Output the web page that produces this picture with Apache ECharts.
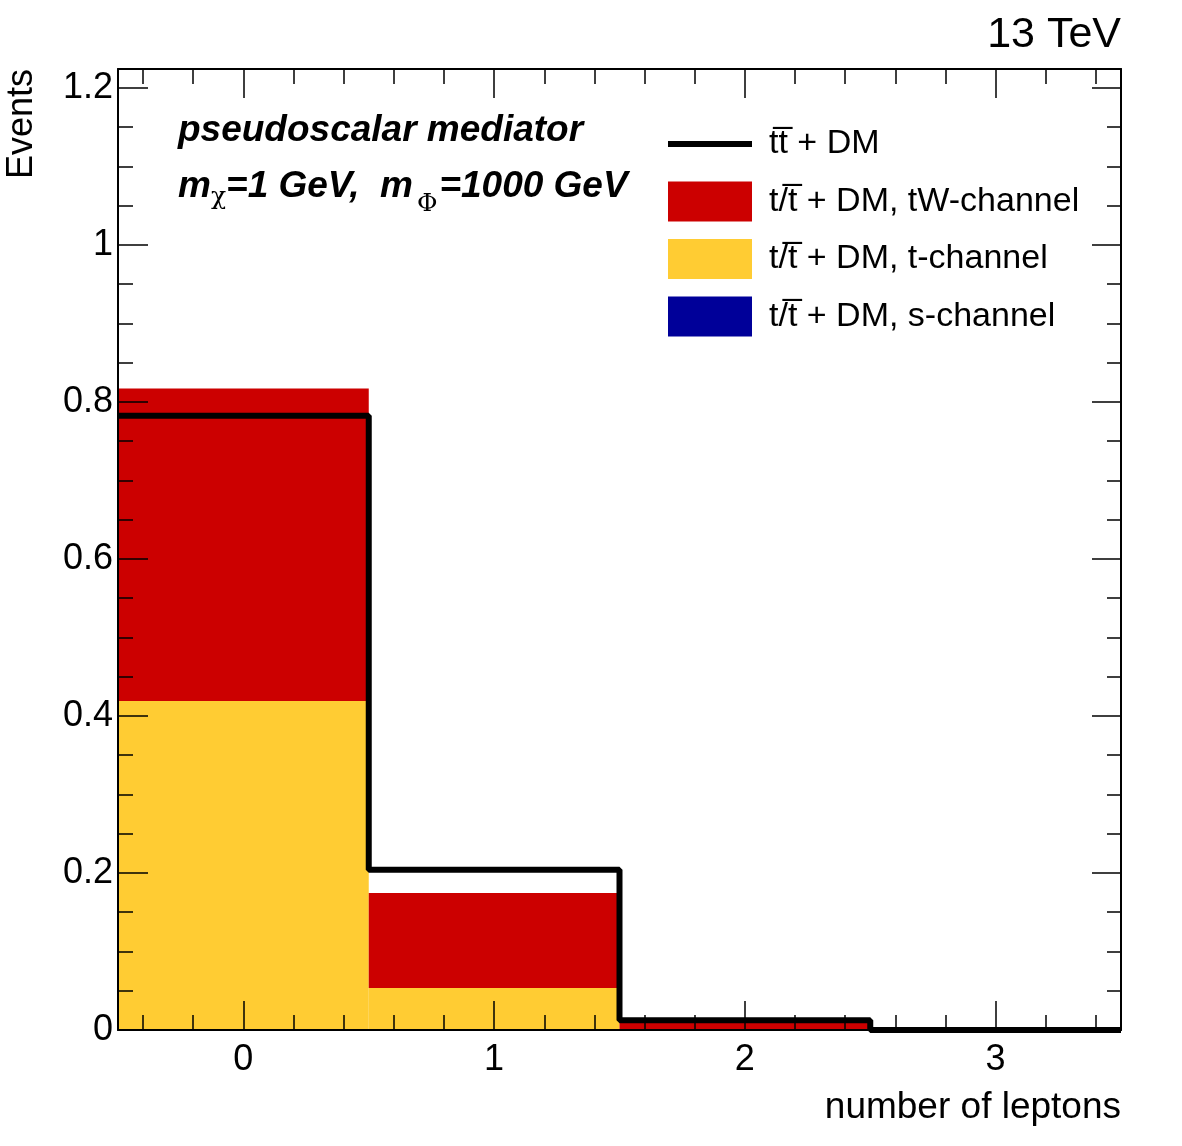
<!DOCTYPE html>
<html>
<head>
<meta charset="utf-8">
<script src="https://cdn.jsdelivr.net/npm/echarts@6/dist/echarts.min.js"></script>
<style>
  html, body { margin: 0; padding: 0; background: #fff; }
  #chart { width: 1182px; height: 1146px; }
</style>
</head>
<body>
<div id="chart"></div>
<script>
// bins: number of leptons 0..3
var binCenters = [0, 1, 2, 3];
var ttDM = [0.7825, 0.204, 0.0125, 0];        // tt + DM (black line)
var tChannel = [0.419, 0.0535, 0, 0];         // t/tbar + DM, t-channel (yellow)
var tWChannel = [0.398, 0.121, 0.009, 0];     // t/tbar + DM, tW-channel (red)
var sChannel = [0, 0, 0, 0];                  // t/tbar + DM, s-channel (blue)
var xMajor = [0, 1, 2, 3];
var yMajor = [0, 0.2, 0.4, 0.6, 0.8, 1, 1.2];

var names = ['tt\u0305 + DM', 't/t\u0305 + DM, tW-channel', 't/t\u0305 + DM, t-channel', 't/t\u0305 + DM, s-channel'];
var colors = { red: '#cc0000', yellow: '#ffcc33', blue: '#000099' };
var font = '"Liberation Sans", Arial, sans-serif';

// minor ticks
var xMinor = [];
for (var i = -2; i <= 17; i++) { if (i % 5 !== 0) xMinor.push(i / 5); }   // -0.4 .. 3.4 step 0.2
var yMinor = [];
for (var j = 1; j <= 24; j++) { if (j % 4 !== 0) yMinor.push(j / 20); }   // step 0.05

// stack bases
var tWBase = tChannel.map(function (v) { return v; });
var sBase = tChannel.map(function (v, k) { return v + tWChannel[k]; });

// step line points from bin edges
var linePts = [];
binCenters.forEach(function (c, k) { linePts.push([c - 0.5, ttDM[k]]); });
linePts.push([binCenters[binCenters.length - 1] + 0.5, ttDM[ttDM.length - 1]]);

function barSeries(name, vals, base, color) {
    return {
        name: name,
        type: 'custom',
        xAxisIndex: 0, yAxisIndex: 0,
        itemStyle: { color: color },
        z: 2,
        data: binCenters.map(function (c, k) { return [c, base[k], base[k] + vals[k]]; }),
        renderItem: function (params, api) {
            var c = api.value(0);
            var p0 = api.coord([c - 0.5, api.value(1)]);
            var p1 = api.coord([c + 0.5, api.value(2)]);
            return {
                type: 'rect',
                shape: { x: p0[0], y: p1[1], width: p1[0] - p0[0], height: p0[1] - p1[1] },
                style: { fill: color }
            };
        }
    };
}

var grid = { left: 118, right: 61, top: 69, bottom: 116 };
var lineStyleAx = { color: '#000', width: 2 };

function xAx(gi, pos, ticks, len, showLine, labels) {
    return {
        gridIndex: gi, type: 'value', position: pos, min: -0.5, max: 3.5, z: 10,
        axisLine: { show: showLine, onZero: false, lineStyle: lineStyleAx },
        axisTick: { show: true, inside: true, length: len, customValues: ticks, lineStyle: { color: '#000', width: 1.5 } },
        axisLabel: labels ? { show: true, customValues: labels, fontSize: 36, color: '#000', fontFamily: font, margin: 12 } : { show: false },
        splitLine: { show: false }
    };
}
function yAx(gi, pos, ticks, len, showLine, labels) {
    return {
        gridIndex: gi, type: 'value', position: pos, min: 0, max: 1.224, z: 10,
        axisLine: { show: showLine, onZero: false, lineStyle: lineStyleAx },
        axisTick: { show: true, inside: true, length: len, customValues: ticks, lineStyle: { color: '#000', width: 1.5 } },
        axisLabel: labels ? { show: true, customValues: labels, fontSize: 36, color: '#000', fontFamily: font, margin: 5 } : { show: false },
        splitLine: { show: false }
    };
}

var option = {
    animation: false,
    backgroundColor: '#fff',
    grid: [grid, grid],
    xAxis: [
        xAx(0, 'bottom', xMajor, 29, true, xMajor),
        xAx(0, 'top', xMajor, 29, true, null),
        xAx(1, 'bottom', xMinor, 15, false, null),
        xAx(1, 'top', xMinor, 15, false, null)
    ],
    yAxis: [
        yAx(0, 'left', yMajor, 30, true, yMajor),
        yAx(0, 'right', yMajor, 29, true, null),
        yAx(1, 'left', yMinor, 15, false, null),
        yAx(1, 'right', yMinor, 14, false, null)
    ],
    legend: {
        orient: 'vertical', left: 665, top: 124, padding: 0,
        itemWidth: 84, itemHeight: 40, itemGap: 17.5,
        textStyle: { fontSize: 34, lineHeight: 40, color: '#000', fontFamily: font, padding: [0, 0, 0, 12] },
        data: [
            { name: names[0], itemStyle: { color: 'rgba(0,0,0,0)', borderWidth: 0 }, lineStyle: { width: 6, color: '#000' } },
            { name: names[1], icon: 'rect' },
            { name: names[2], icon: 'rect' },
            { name: names[3], icon: 'rect' }
        ]
    },
    series: [
        barSeries(names[2], tChannel, binCenters.map(function () { return 0; }), colors.yellow),
        barSeries(names[1], tWChannel, tWBase, colors.red),
        barSeries(names[3], sChannel, sBase, colors.blue),
        {
            name: names[0], type: 'line', step: 'end', xAxisIndex: 0, yAxisIndex: 0,
            data: linePts, symbol: 'none', clip: false, z: 3,
            lineStyle: { color: '#000', width: 6 }, itemStyle: { color: '#000' }
        }
    ],
    graphic: [
        { type: 'text', style: { x: 1121, y: 35, text: '13 TeV', align: 'right', verticalAlign: 'middle', fontSize: 43, fontFamily: font, fill: '#000' } },
        { type: 'text', rotation: Math.PI / 2, x: 22, y: 69, style: { x: 0, y: 0, text: 'Events', align: 'right', verticalAlign: 'middle', fontSize: 36, fontFamily: font, fill: '#000' } },
        { type: 'text', style: { x: 1121, y: 1108, text: 'number of leptons', align: 'right', verticalAlign: 'middle', fontSize: 37, fontFamily: font, fill: '#000' } },
        { type: 'text', style: { x: 178, y: 131, text: 'pseudoscalar mediator', align: 'left', verticalAlign: 'middle', fontSize: 37, fontWeight: 'bold', fontStyle: 'italic', fontFamily: font, fill: '#000' } },
        {
            type: 'text', style: {
                x: 178, y: 187, align: 'left', verticalAlign: 'middle',
                text: '{m|m}{chi|\u03c7}{m|=1 GeV,  m}{phi|\u03a6}{m|=1000 GeV}',
                rich: {
                    m: { fontSize: 37, fontWeight: 'bold', fontStyle: 'italic', fontFamily: font, fill: '#000', lineHeight: 44 },
                    chi: { fontSize: 25, fontFamily: '"DejaVu Serif", serif', fill: '#000', padding: [20, 0, 0, 0], lineHeight: 44 },
                    phi: { fontSize: 25, fontFamily: '"DejaVu Serif", serif', fill: '#000', padding: [34, 2, 0, 4], lineHeight: 44 }
                }
            }
        }
    ]
};

var chart = echarts.init(document.getElementById('chart'), null, { renderer: 'canvas' });
chart.setOption(option);
</script>
</body>
</html>
